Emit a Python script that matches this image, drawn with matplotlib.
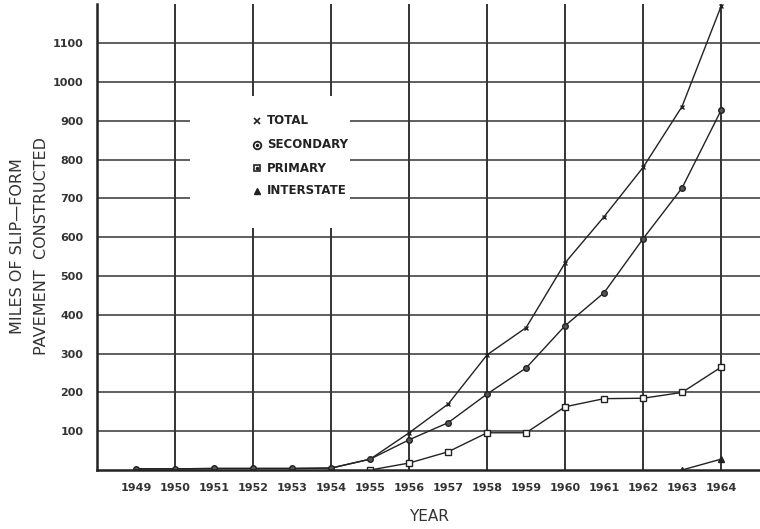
import matplotlib
matplotlib.use("Agg")
import matplotlib.pyplot as plt
from matplotlib.patches import Rectangle

years = [1949, 1950, 1951, 1952, 1953, 1954, 1955, 1956, 1957, 1958, 1959, 1960, 1961, 1962, 1963, 1964]
total = [3, 3, 4, 4, 4, 5, 28, 96, 170, 297, 367, 534, 653, 780, 937, 1195]
secondary = [3, 3, 4, 4, 4, 5, 28, 78, 122, 196, 263, 372, 457, 596, 727, 927]
primary_years = [1955, 1956, 1957, 1958, 1959, 1960, 1961, 1962, 1963, 1964]
primary = [0, 18, 47, 96, 96, 163, 184, 185, 200, 265]
interstate_years = [1963, 1964]
interstate = [0, 28]
xtick_labels = [str(y) for y in years]
ytick_values = [100, 200, 300, 400, 500, 600, 700, 800, 900, 1000, 1100]
legend_labels = ["TOTAL", "SECONDARY", "PRIMARY", "INTERSTATE"]

fig = plt.figure(figsize=(7.6, 5.29), dpi=100)
ax = fig.add_axes([0.128, 0.1115, 0.872, 0.88])
ax.set_xlim(1948, 1965)
ax.set_ylim(0, 1200)

# grid
for yv in ytick_values:
    ax.axhline(yv, color="#444444", lw=1.2, zorder=1)
for xv in range(1950, 1965, 2):
    ax.axvline(xv, color="#333333", lw=1.4, zorder=1)

lc = "#222222"
ax.plot(years, total, color=lc, lw=1.0, marker="x", ms=3.5, mew=1.0, zorder=3)
ax.plot(years, secondary, color=lc, lw=1.0, marker="o", ms=4, mfc="#555555", mec=lc, zorder=3)
ax.plot(primary_years, primary, color=lc, lw=1.0, marker="s", ms=5, mfc="white", mec=lc, zorder=4)
ax.plot(interstate_years, interstate, color=lc, lw=1.0, marker="^", ms=4, mfc=lc, mec=lc, zorder=3)

# legend block (white patch masking grid)
ax.add_patch(Rectangle((1950.38, 625), 4.1, 340, facecolor="white", edgecolor="none", zorder=2))
markers = [dict(marker="x", ms=4, mew=1.2, mfc=lc), dict(marker="o", ms=5.5, mfc="white", mew=1.3),
           dict(marker="s", ms=5, mfc="white", mew=1.2), dict(marker="^", ms=4.5, mfc=lc)]
ly = [900, 838, 778, 720]
for lab, m, yy in zip(legend_labels, markers, ly):
    ax.plot([1952.1], [yy], color=lc, linestyle="none", mec=lc, zorder=5, **m)
    ax.text(1952.35, yy, lab, fontsize=8.5, fontweight="bold", va="center", ha="left", color="#222222", zorder=5)
# centre dots for circle / square legend symbols
ax.plot([1952.1, 1952.1], [838, 778], linestyle="none", marker="o", ms=1.5, color=lc, zorder=6)

for sp in ["top", "right"]:
    ax.spines[sp].set_visible(False)
for sp in ["left", "bottom"]:
    ax.spines[sp].set_linewidth(1.8)
    ax.spines[sp].set_color("#222222")
    ax.spines[sp].set_zorder(6)

ax.set_xticks(years)
ax.set_xticklabels(xtick_labels, fontsize=8, fontweight="bold", color="#333333")
ax.set_yticks(ytick_values)
ax.set_yticklabels([str(v) for v in ytick_values], fontsize=8, fontweight="bold", color="#333333")
ax.tick_params(axis="x", length=0, pad=9)
ax.tick_params(axis="y", length=0, pad=10)

ax.set_xlabel("YEAR", fontsize=11, color="#333333", labelpad=12)
fig.text(0.023, 0.535, "MILES OF SLIP\u2014FORM", rotation=90, fontsize=11.5, color="#333333",
         ha="center", va="center")
fig.text(0.055, 0.535, "PAVEMENT  CONSTRUCTED", rotation=90, fontsize=11.5, color="#333333",
         ha="center", va="center")

fig.savefig("out.png", dpi=100, facecolor="white")
